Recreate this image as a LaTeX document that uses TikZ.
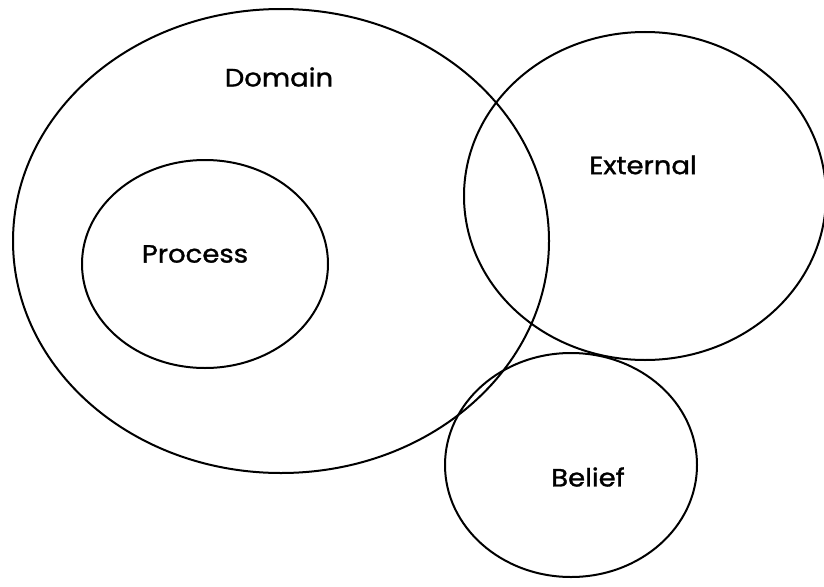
\documentclass[tikz,border=0pt]{standalone}
\usepackage{fontspec}
\setmainfont{Poppins}
\newfontfamily\lblfont[FakeBold=1.2]{Poppins}
\begin{document}
\begin{tikzpicture}[x=1pt,y=-1pt,
  set/.style={draw=black,line width=2pt},
  lbl/.style={font=\lblfont\fontsize{25}{28}\selectfont,inner sep=0pt,xscale=1.1}]
\useasboundingbox (0,0) rectangle (824,586);
\draw[set] (281,241) ellipse [x radius=268,y radius=232];
\draw[set] (205,264) ellipse [x radius=123,y radius=104];
\draw[set] (645,196) ellipse [x radius=181,y radius=164];
\draw[set] (571,465) ellipse [x radius=126,y radius=112];
\node[lbl] (domain) at (279,77) {Domain};
\node[lbl] (external) at (643,165) {External};
\node[lbl] (process) at (195,254) {Process};
\node[lbl] (belief) at (588,477) {Belief};
\end{tikzpicture}
\end{document}
